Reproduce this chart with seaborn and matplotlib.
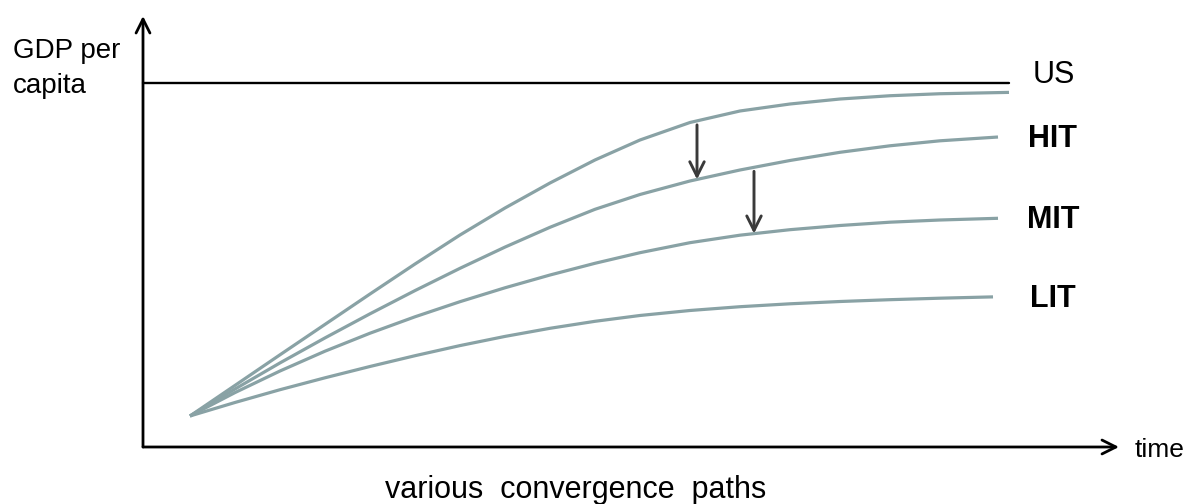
import numpy as np
import pandas as pd
import matplotlib
matplotlib.use("Agg")
import matplotlib.pyplot as plt
import seaborn as sns

# time (arbitrary units), GDP per capita as % of the US level
t_top = [4.7, 9.2, 13.7, 18.2, 22.7, 27.2, 31.7, 36.2, 40.7, 45.2, 49.7, 54.7, 59.7, 64.7, 69.7, 74.7, 79.7, 86.6]
g_top = [8.52, 16.92, 25.33, 33.68, 42.03, 50.27, 58.24, 65.66, 72.53, 78.85, 84.34, 89.15,
         92.31, 94.23, 95.60, 96.50, 97.05, 97.42]

t_hit = [4.7, 9.2, 13.7, 18.2, 22.7, 27.2, 31.7, 36.2, 40.7, 45.2, 49.7, 54.7, 59.7, 64.7, 69.7, 74.7, 79.7, 85.5]
g_hit = [8.52, 15.93, 23.10, 29.97, 36.59, 42.97, 49.09, 54.92, 60.36, 65.30, 69.37, 73.08,
         76.10, 78.71, 80.96, 82.75, 84.12, 85.16]

t_mit = [4.7, 9.2, 13.7, 18.2, 22.7, 27.2, 31.7, 36.2, 40.7, 45.2, 49.7, 54.7, 59.7, 64.7, 69.7, 74.7, 79.7, 85.5]
g_mit = [8.52, 14.95, 20.88, 26.32, 31.26, 35.77, 39.92, 43.74, 47.25, 50.47, 53.38, 56.13,
         58.19, 59.70, 60.85, 61.76, 62.36, 62.83]

t_lit = [4.7, 9.2, 13.7, 18.2, 22.7, 27.2, 31.7, 36.2, 40.7, 45.2, 49.7, 54.7, 59.7, 64.7, 69.7, 74.7, 79.7, 85.0]
g_lit = [8.52, 12.23, 15.74, 19.01, 22.12, 25.08, 27.86, 30.38, 32.61, 34.53, 36.13, 37.50,
         38.54, 39.34, 39.97, 40.47, 40.88, 41.24]

us_level = 100
us_end = 86.6
labels = ["HIT", "MIT", "LIT"]
drop_times = [55.4, 61.1]   # where the downward arrows sit

CURVE = "#89a2a5"
ARROW = "#3a3a3a"

sns.set_theme(style="white")
plt.rcParams["font.family"] = ["Liberation Sans", "DejaVu Sans"]
plt.rcParams["text.color"] = "black"

fig = plt.figure(figsize=(11.9, 5.04), dpi=100)
ax = fig.add_axes([0, 0, 1, 1])

paths = [("top", t_top, g_top), ("HIT", t_hit, g_hit),
         ("MIT", t_mit, g_mit), ("LIT", t_lit, g_lit)]
df = pd.concat([pd.DataFrame({"time": t, "gdp": g, "path": name}) for name, t, g in paths],
               ignore_index=True)

sns.lineplot(data=df, x="time", y="gdp", hue="path", palette=[CURVE] * 4,
             linewidth=2.3, estimator=None, sort=False, legend=False, ax=ax)
for line in ax.get_lines():
    line.set_solid_joinstyle("round")
    line.set_solid_capstyle("butt")

# axes with arrow heads
axis_style = dict(arrowstyle="->", lw=2.0, color="black", mutation_scale=25,
                  shrinkA=0, shrinkB=0)
ax.annotate("", xy=(0, 118.4), xytext=(0, 0), arrowprops=axis_style)
ax.annotate("", xy=(97.6, 0), xytext=(0, 0), arrowprops=axis_style)

# US frontier
ax.plot([0, us_end], [us_level, us_level], color="black", lw=1.7)
ax.text(91.1, us_level, "US", fontsize=22, ha="center", va="baseline")

# curve labels
for name, g in zip(labels, [g_hit, g_mit, g_lit]):
    ax.text(91.0, g[-1] - 0.6, name, fontsize=22, fontweight="bold", ha="center", va="center")

# drops between paths
drop_style = dict(arrowstyle="->", lw=2.1, color=ARROW, mutation_scale=26,
                  shrinkA=0, shrinkB=0)
pairs = [(t_top, g_top, t_hit, g_hit), (t_hit, g_hit, t_mit, g_mit)]
for x, (ta, ga, tb, gb) in zip(drop_times, pairs):
    y0 = np.interp(x, ta, ga) - 1.1
    y1 = np.interp(x, tb, gb)
    ax.annotate("", xy=(x, y1), xytext=(x, y0), arrowprops=drop_style)

ax.text(-13.0, 106.9, "GDP per", fontsize=20, ha="left", va="baseline")
ax.text(-13.0, 97.3, "capita", fontsize=20, ha="left", va="baseline")
ax.text(99.2, -2.7, "time", fontsize=19, ha="left", va="baseline")
ax.text(43.25, -13.9, "various  convergence  paths", fontsize=22, ha="center", va="baseline")

ax.set_xlim(-14.3, 104.7)
ax.set_ylim(-15.66, 122.8)
ax.axis("off")

fig.savefig("out.png", dpi=100)
